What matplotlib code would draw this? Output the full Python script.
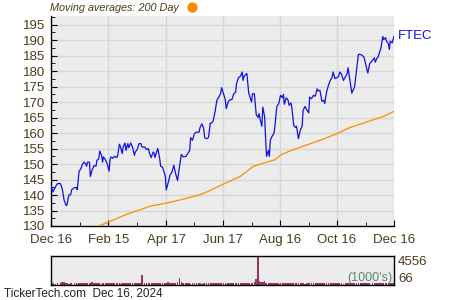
import matplotlib
matplotlib.use("Agg")
import matplotlib.pyplot as plt
import matplotlib.dates as mdates
import pandas as pd
from matplotlib.lines import Line2D

plt.rcParams['font.family'] = ['Liberation Sans', 'DejaVu Sans']

start = pd.Timestamp("2023-12-16")
end = pd.Timestamp("2024-12-16")

# Price (days since Dec 16, 2023, close)
price_days = [0, 2, 5, 7, 10, 12, 14, 16, 17, 19, 21, 22, 25, 27, 28, 30, 32, 33, 35, 37,
              38, 39, 41, 42, 44, 46, 48, 49, 51, 52, 54, 55, 56, 58, 60, 62, 63, 64, 66, 68,
              70, 71, 73, 74, 76, 77, 79, 80, 82, 83, 85, 87, 89, 90, 92, 94, 96, 97, 100, 102,
              104, 105, 107, 109, 110, 111, 113, 114, 116, 117, 119, 121, 122, 123, 125, 127, 129, 131, 133, 135,
              137, 139, 141, 144, 146, 148, 149, 151, 153, 155, 158, 159, 161, 163, 164, 166, 168, 170, 171, 173,
              175, 177, 179, 181, 182, 184, 186, 187, 189, 191, 193, 195, 197, 198, 200, 202, 204, 205, 206, 208,
              209, 211, 212, 214, 215, 217, 219, 221, 222, 223, 225, 226, 228, 229, 230, 232, 233, 234, 236, 238,
              239, 241, 243, 244, 245, 247, 248, 249, 251, 253, 254, 256, 257, 259, 261, 262, 264, 266, 268, 269,
              271, 273, 275, 276, 278, 280, 282, 284, 285, 287, 289, 291, 292, 294, 296, 298, 300, 301, 303, 305,
              307, 308, 310, 312, 314, 316, 317, 319, 321, 323, 324, 326, 328, 330, 332, 334, 336, 338, 339, 340,
              343, 345, 346, 348, 349, 351, 352, 354, 355, 357, 358, 360, 361, 362, 364, 365, 366]
price = [143.1, 141.0, 142.8, 143.7, 143.7, 142.0, 138.3, 136.7, 136.7, 140.0, 140.1, 141.7, 142.4, 142.4, 141.7, 147.7, 148.5, 149.6, 150.6, 150.1,
         149.3, 150.6, 150.6, 146.0, 148.2, 149.5, 149.3, 151.2, 151.7, 154.2, 152.8, 150.6, 152.3, 151.4, 150.1, 147.7, 151.4, 152.3, 151.9, 152.5,
         152.1, 152.5, 156.4, 155.7, 153.4, 155.5, 156.8, 154.4, 156.6, 155.3, 156.8, 155.5, 152.8, 153.9, 154.7, 156.6, 156.6, 155.5, 155.5, 154.7,
         155.0, 153.6, 152.1, 153.9, 153.6, 152.1, 154.2, 155.0, 151.7, 149.3, 149.0, 147.1, 146.0, 141.7, 143.9, 146.4, 147.4, 149.6, 146.9, 144.7,
         149.0, 153.1, 152.3, 152.5, 153.4, 154.4, 158.5, 157.7, 159.8, 160.3, 160.3, 161.8, 163.0, 161.4, 158.5, 158.2, 158.5, 163.2, 163.2, 163.9,
         166.8, 170.6, 171.6, 172.7, 174.7, 172.7, 170.8, 167.9, 170.0, 170.8, 170.8, 172.7, 173.2, 176.0, 177.9, 178.3, 179.7, 177.0, 178.3, 179.0,
         179.2, 172.9, 171.9, 170.0, 172.7, 172.7, 166.0, 165.0, 166.3, 164.7, 162.2, 168.4, 165.2, 158.2, 152.5, 154.4, 152.5, 157.7, 159.0, 160.0,
         162.5, 168.6, 169.5, 171.0, 172.2, 171.4, 172.5, 169.3, 171.4, 170.6, 169.0, 169.7, 168.2, 162.5, 161.8, 162.2, 158.2, 160.9, 162.2, 167.3,
         168.6, 167.5, 166.5, 171.6, 171.1, 172.2, 171.9, 174.3, 173.6, 173.8, 170.3, 170.6, 169.5, 173.2, 175.4, 177.0, 178.1, 179.7, 177.6, 177.9,
         178.3, 179.7, 179.0, 177.0, 178.1, 179.2, 181.1, 177.0, 172.9, 174.3, 175.1, 180.2, 185.4, 185.4, 185.1, 184.5, 181.9, 179.4, 180.8, 182.4,
         183.5, 184.3, 182.9, 184.3, 184.5, 186.5, 187.3, 191.2, 190.2, 190.8, 189.7, 188.9, 187.0, 189.7, 189.1, 190.2, 191.2]

# 200-day moving average
ma_days = [51, 81, 106, 123, 139, 159, 170, 183, 202, 216, 230, 239, 246, 259, 275, 289, 305, 319, 337, 355, 366]
ma = [130.0, 133.8, 136.4, 137.4, 138.5, 140.1, 141.5, 143.4, 146.0, 149.3, 150.6, 151.4, 153.1, 154.7, 156.4, 157.9, 159.8, 161.8, 163.6, 165.4, 167.0]

# Volume (thousands), same days as price
volume = [260, 240, 230, 250, 280, 450, 420, 260, 240, 230, 250, 270, 260, 240, 230, 260, 280, 300, 270, 250,
          260, 240, 250, 270, 400, 380, 300, 260, 240, 250, 230, 260, 280, 300, 250, 240, 260, 270, 250, 240,
          260, 250, 240, 230, 260, 280, 300, 270, 250, 240, 260, 250, 240, 270, 260, 250, 280, 1600, 300, 260,
          250, 240, 260, 280, 270, 250, 240, 300, 260, 380, 330, 280, 260, 250, 400, 300, 350, 280, 300, 450,
          1100, 400, 300, 250, 240, 260, 230, 250, 240, 260, 250, 240, 230, 250, 260, 240, 250, 270, 260, 250,
          240, 260, 270, 280, 260, 250, 240, 230, 260, 280, 300, 270, 260, 250, 240, 260, 280, 270, 260, 250,
          240, 260, 280, 300, 350, 400, 1000, 4556, 600, 450, 500, 400, 550, 350, 300, 280, 270, 260, 250, 240,
          260, 250, 240, 230, 250, 260, 270, 250, 240, 260, 270, 250, 240, 260, 250, 240, 270, 260, 250, 240,
          230, 250, 260, 240, 250, 270, 260, 250, 240, 260, 250, 240, 260, 270, 250, 240, 260, 280, 270, 250,
          260, 250, 240, 230, 250, 260, 240, 250, 270, 300, 280, 260, 250, 240, 260, 300, 280, 350, 320, 300,
          280, 260, 250, 300, 350, 320, 300, 280, 260, 270, 250, 260, 280, 300, 320, 300, 280]

tick_dates = ["2023-12-16", "2024-02-15", "2024-04-17", "2024-06-17", "2024-08-16", "2024-10-16", "2024-12-16"]
tick_labels = ["Dec 16", "Feb 15", "Apr 17", "Jun 17", "Aug 16", "Oct 16", "Dec 16"]
minor_dates = ["2024-01-16", "2024-03-17", "2024-05-17", "2024-07-17", "2024-09-16", "2024-11-16"]
price_ticks = [130, 135, 140, 145, 150, 155, 160, 165, 170, 175, 180, 185, 190, 195]
vol_ticks = [66, 4556]

pdates = [start + pd.Timedelta(days=d) for d in price_days]
mdates_ = [start + pd.Timedelta(days=d) for d in ma_days]
n = min(len(pdates), len(volume))
vdates = pdates[:n]

txt = '#4a3c1c'
bg = '#ececec'
grid = '#d6d6d6'

fig = plt.figure(figsize=(4.5, 3.0), dpi=100)
ax = fig.add_axes([51/450, 1-226/300, 343/450, 210/300])
ax.set_facecolor(bg)
ax.plot(pdates, price, color='#1010e8', lw=0.9, zorder=3)
ax.plot(mdates_, ma, color='#ff8c00', lw=0.9, zorder=3)
ax.set_xlim(start, end)
ax.set_ylim(130, 197.8)
ax.set_yticks(price_ticks)
ax.set_yticks([v + 2.5 for v in price_ticks], minor=True)
ax.set_xticks([pd.Timestamp(d) for d in tick_dates])
ax.set_xticklabels(tick_labels)
ax.set_xticks([pd.Timestamp(d) for d in minor_dates], minor=True)
ax.grid(True, which='major', color=grid, lw=1)
ax.set_axisbelow(True)
for s in ['top', 'right']:
    ax.spines[s].set_visible(False)
for s in ['left', 'bottom']:
    ax.spines[s].set_color('black')
    ax.spines[s].set_linewidth(1)
ax.tick_params(which='both', direction='in', colors='black', labelcolor=txt, labelsize=9.5)
ax.tick_params(which='major', length=4)
ax.tick_params(which='minor', length=3)
ax.tick_params(axis='x', pad=6)
ax.tick_params(axis='y', pad=4)
ax.text(1.01, price[-1], "FTEC", transform=ax.get_yaxis_transform(), color='#1010e8',
        fontsize=9.5, va='center', ha='left')

# title
fig.text(50/450, 1-8/300, "Moving averages: 200 Day", fontsize=7.8, style='italic',
         color=txt, va='center', ha='left')
fig.add_artist(Line2D([192/450], [1-7/300], marker='o', markersize=7.5, color='#ff8c00',
                      markeredgewidth=0, transform=fig.transFigure))

# volume panel
vax = fig.add_axes([51/450, 1-285/300, 343/450, 29/300])
vax.set_facecolor(bg)
vax.bar(vdates, volume[:n], width=1.6, color='#993366', linewidth=0)
vax.set_xlim(start, end)
vax.set_ylim(0, 4556)
vax.set_xticks([])
vax.yaxis.tick_right()
vax.set_yticks(vol_ticks)
vax.set_yticklabels([str(v) for v in vol_ticks])
vax.tick_params(axis='y', length=0, labelcolor=txt, labelsize=9.5, pad=3)
labs = vax.get_yticklabels()
labs[0].set_va('bottom')
labs[1].set_va('top')
for s in vax.spines.values():
    s.set_color('black')
    s.set_linewidth(1)
vax.text(0.995, 0.03, "(1000's)", transform=vax.transAxes, ha='right', va='bottom',
         color='#5a8a6a', fontsize=9)

fig.text(4/450, 1-293/300, "TickerTech.com  Dec 16, 2024", fontsize=8.5, color='#222222',
         va='center', ha='left')

fig.savefig("out.png", dpi=100)
